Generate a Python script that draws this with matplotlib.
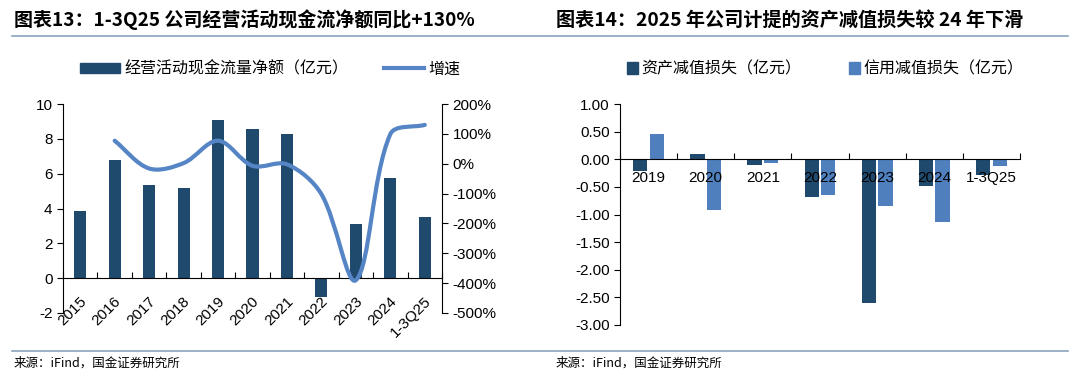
import matplotlib
matplotlib.use("Agg")
import matplotlib.pyplot as plt
from matplotlib.path import Path
from matplotlib.patches import PathPatch, Patch
from matplotlib.lines import Line2D
from matplotlib.ticker import FuncFormatter
import numpy as np

plt.rcParams["font.family"] = ["Liberation Sans", "Noto Sans CJK SC", "DejaVu Sans"]
plt.rcParams["axes.unicode_minus"] = False

# ---- data: chart 13 ----
cf_years = ["2015", "2016", "2017", "2018", "2019", "2020", "2021", "2022", "2023", "2024", "1-3Q25"]
cf_net = [3.87, 6.78, 5.36, 5.17, 9.10, 8.56, 8.29, -1.11, 3.12, 5.73, 3.51]
cf_growth = [None, 77, -16, 2, 77, -7, -2, -102, -390, 99, 130]  # %

# ---- data: chart 14 ----
imp_years = ["2019", "2020", "2021", "2022", "2023", "2024", "1-3Q25"]
asset_imp = [-0.22, 0.09, -0.10, -0.69, -2.60, -0.48, -0.28]
credit_imp = [0.45, -0.92, -0.07, -0.65, -0.85, -1.13, -0.12]

DARK = "#1F4A6E"
LIGHT = "#4F7FBD"
LINE = "#5585C5"
CJK = ["Noto Sans CJK SC", "DejaVu Sans"]

fig = plt.figure(figsize=(10.8, 3.77), dpi=100)

# titles, rules, footers
fig.text(14 / 1080, 1 - 20 / 377, "图表13：1-3Q25 公司经营活动现金流净额同比+130%",
         fontsize=13.7, fontweight="bold", family=CJK, va="center", ha="left")
fig.text(556 / 1080, 1 - 20 / 377, "图表14：2025 年公司计提的资产减值损失较 24 年下滑",
         fontsize=13.8, fontweight="bold", family=CJK, va="center", ha="left")
fig.add_artist(Line2D([12 / 1080, 1068 / 1080], [1 - 36 / 377] * 2, color="#8AA3BD", lw=1.2))
fig.add_artist(Line2D([12 / 1080, 1068 / 1080], [1 - 351 / 377] * 2, color="#8AA3BD", lw=1.2))
fig.text(14 / 1080, 1 - 363 / 377, "来源：iFind，国金证券研究所", fontsize=9, family=CJK, va="center")
fig.text(556 / 1080, 1 - 363 / 377, "来源：iFind，国金证券研究所", fontsize=9, family=CJK, va="center")

# ================= left chart =================
ax = fig.add_axes([63 / 1080, 1 - 313 / 377, 379 / 1080, 209 / 377])
x = np.arange(len(cf_years))
ax.bar(x, cf_net, width=0.35, color=DARK, zorder=2)
ax.set_xlim(-0.5, len(cf_years) - 0.5)
ax.set_ylim(-2, 10)
ax.set_yticks(range(-2, 11, 2))
ax.spines["top"].set_visible(False)
ax.spines["right"].set_visible(False)
ax.spines["bottom"].set_position(("data", 0))
ax.set_xticks(np.arange(-0.5, len(cf_years), 1.0))
ax.set_xticklabels([])
ax.tick_params(axis="x", direction="in", length=4)
ax.tick_params(axis="y", direction="out", length=4, labelsize=11)
for i, lab in enumerate(cf_years):
    ax.text(i + 0.12, -1.2, lab, rotation=45, rotation_mode="anchor",
            ha="right", va="center", fontsize=11)

ax2 = ax.twinx()
ax2.set_ylim(-500, 200)
ax2.set_yticks(range(-500, 201, 100))
ax2.yaxis.set_major_formatter(FuncFormatter(lambda v, p: f"{v:.0f}%"))
ax2.tick_params(axis="y", direction="out", length=4, labelsize=11)
for s in ["top", "left", "bottom"]:
    ax2.spines[s].set_visible(False)

# smooth line (Excel-style) through the growth points, arms scaled in screen space
pts = np.array([(i, v) for i, v in enumerate(cf_growth) if v is not None], float)
sx = 379 / len(cf_years)   # px per category
sy = 209 / 700             # px per percent
scr = pts * [sx, sy]
n = len(scr)
verts = [tuple(pts[0])]
codes = [Path.MOVETO]
def arms(k):
    prev = scr[k - 1] if k > 0 else scr[k]
    nxt = scr[k + 1] if k + 1 < n else scr[k]
    lin = np.hypot(*(scr[k] - prev))
    lout = np.hypot(*(nxt - scr[k]))
    d = nxt - prev
    tot = lin + lout
    return d * lin / tot / 3, d * lout / tot / 3
for k in range(n - 1):
    _, out1 = arms(k)
    in2, _ = arms(k + 1)
    c1 = (scr[k] + out1) / [sx, sy]
    c2 = (scr[k + 1] - in2) / [sx, sy]
    verts += [tuple(c1), tuple(c2), tuple(pts[k + 1])]
    codes += [Path.CURVE4] * 3
ax2.add_patch(PathPatch(Path(verts, codes), facecolor="none", edgecolor=LINE,
                        lw=3, capstyle="round", zorder=3))

fig.legend(handles=[Patch(color=DARK, label="经营活动现金流量净额（亿元）"),
                    Line2D([], [], color=LINE, lw=3, label="增速")],
           loc="center", bbox_to_anchor=(270 / 1080, 1 - 69 / 377), ncol=2,
           frameon=False, prop={"family": CJK, "size": 11.5},
           handlelength=2.5, handleheight=0.6, columnspacing=2.2, handletextpad=0.3)

# ================= right chart =================
bx = fig.add_axes([620 / 1080, 1 - 325 / 377, 400 / 1080, 221 / 377])
xi = np.arange(len(imp_years))
bx.bar(xi - 0.145, asset_imp, width=0.25, color=DARK, zorder=2, label="资产减值损失（亿元）")
bx.bar(xi + 0.145, credit_imp, width=0.25, color=LIGHT, zorder=2, label="信用减值损失（亿元）")
bx.set_xlim(-0.5, len(imp_years) - 0.5)
bx.set_ylim(-3, 1)
bx.set_yticks(np.arange(-3, 1.01, 0.5))
bx.yaxis.set_major_formatter(FuncFormatter(lambda v, p: f"{v:.2f}"))
bx.spines["top"].set_visible(False)
bx.spines["right"].set_visible(False)
bx.spines["bottom"].set_position(("data", 0))
bx.set_xticks(np.arange(-0.5, len(imp_years), 1.0))
bx.set_xticklabels([])
bx.tick_params(axis="x", direction="in", length=4)
bx.tick_params(axis="y", direction="out", length=4, labelsize=11)
for i, lab in enumerate(imp_years):
    bx.text(i, -0.34, lab, ha="center", va="center", fontsize=11, zorder=4)

fig.legend(handles=[Patch(color=DARK, label="资产减值损失（亿元）"),
                    Patch(color=LIGHT, label="信用减值损失（亿元）")],
           loc="center", bbox_to_anchor=(825 / 1080, 1 - 69 / 377), ncol=2,
           frameon=False, prop={"family": CJK, "size": 11.5},
           handlelength=0.7, handleheight=0.7, columnspacing=3.0, handletextpad=0.2)

fig.savefig("out.png", dpi=100)
